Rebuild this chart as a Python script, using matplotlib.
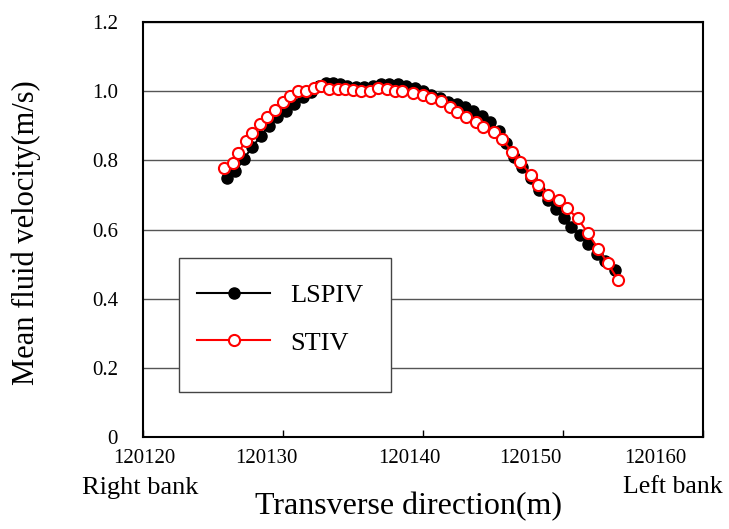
import matplotlib.pyplot as plt
from matplotlib.patches import Rectangle

plt.rcParams['font.family'] = ['Liberation Serif', 'DejaVu Serif']

# LSPIV (black, filled)
lspiv_x = [120126.0, 120126.6, 120127.2, 120127.8, 120128.4, 120129.0, 120129.6, 120130.2,
           120130.8, 120131.4, 120132.0, 120132.6, 120133.1, 120133.6, 120134.1, 120134.6,
           120135.2, 120135.8, 120136.4, 120137.0, 120137.6, 120138.2, 120138.8, 120139.4,
           120140.0, 120140.6, 120141.2, 120141.8, 120142.4, 120143.0, 120143.6, 120144.2,
           120144.8, 120145.4, 120145.9, 120146.5, 120147.1, 120147.7, 120148.3, 120148.9,
           120149.5, 120150.1, 120150.6, 120151.2, 120151.8, 120152.4, 120153.0, 120153.7]
lspiv_v = [0.748, 0.768, 0.805, 0.838, 0.870, 0.900, 0.925, 0.943,
           0.962, 0.982, 0.998, 1.015, 1.024, 1.024, 1.022, 1.016,
           1.012, 1.012, 1.016, 1.020, 1.020, 1.020, 1.016, 1.010,
           1.000, 0.990, 0.980, 0.970, 0.962, 0.953, 0.944, 0.928,
           0.910, 0.885, 0.850, 0.810, 0.780, 0.748, 0.715, 0.685,
           0.660, 0.632, 0.608, 0.584, 0.558, 0.530, 0.508, 0.482]

# STIV (red, open)
stiv_x = [120125.8, 120126.4, 120126.8, 120127.35, 120127.8, 120128.35, 120128.85, 120129.4,
          120130.0, 120130.5, 120131.05, 120131.65, 120132.2, 120132.7, 120133.3, 120133.9,
          120134.4, 120135.0, 120135.6, 120136.2, 120136.8, 120137.4, 120138.0, 120138.5,
          120139.3, 120140.0, 120140.6, 120141.3, 120141.9, 120142.45, 120143.05, 120143.8,
          120144.3, 120145.05, 120145.65, 120146.35, 120146.95, 120147.7, 120148.2, 120148.95,
          120149.7, 120150.3, 120151.05, 120151.75, 120152.5, 120153.2, 120153.95]
stiv_v = [0.777, 0.793, 0.822, 0.857, 0.880, 0.904, 0.926, 0.947,
          0.968, 0.986, 1.001, 1.001, 1.010, 1.015, 1.006, 1.006,
          1.006, 1.003, 1.000, 1.000, 1.008, 1.006, 1.001, 1.001,
          0.996, 0.989, 0.981, 0.972, 0.955, 0.939, 0.926, 0.910,
          0.897, 0.883, 0.861, 0.825, 0.794, 0.759, 0.728, 0.699,
          0.685, 0.661, 0.632, 0.591, 0.545, 0.502, 0.453]

x_ticks = [120120, 120130, 120140, 120150, 120160]
y_ticks = [0, 0.2, 0.4, 0.6, 0.8, 1.0, 1.2]
y_ticklabels = ['0', '0.2', '0.4', '0.6', '0.8', '1.0', '1.2']

fig = plt.figure(figsize=(7.29, 5.29), dpi=100)
ax = fig.add_axes([0.1962, 0.1739, 0.7682, 0.7845])

l1, = ax.plot(lspiv_x, lspiv_v, color='black', lw=1.5, marker='o', markersize=8,
              markerfacecolor='black', markeredgecolor='black', label='LSPIV', zorder=3)
l2, = ax.plot(stiv_x, stiv_v, color='red', lw=1.5, marker='o', markersize=8,
              markerfacecolor='white', markeredgecolor='red', markeredgewidth=1.5,
              label='STIV', zorder=4)

ax.set_xlim(120120, 120160)
ax.set_ylim(0, 1.2)
ax.set_xticks(x_ticks)
ax.set_xticklabels([])
# the labels in the original sit a bit left of their tick marks
label_pos = [0.002, 0.221, 0.475, 0.691, 0.914]
for xp, t in zip(label_pos, x_ticks):
    ax.text(xp, -0.051, str(t), transform=ax.transAxes, fontsize=15,
            ha='center', va='center')
ax.set_yticks(y_ticks)
ax.set_yticklabels(y_ticklabels, fontsize=15)
ax.tick_params(axis='x', direction='in', length=5, width=1)
ax.tick_params(axis='y', length=0, pad=18)
ax.yaxis.grid(True, color='#555555', lw=1)
ax.set_axisbelow(True)
for s in ax.spines.values():
    s.set_linewidth(1.5)

ax.set_ylabel('Mean fluid velocity(m/s)', fontsize=22)
ax.yaxis.set_label_coords(-0.182, 0.493)
fig.text(0.5605, 0.043, 'Transverse direction(m)', fontsize=23, ha='center', va='center')
fig.text(0.112, 0.078, 'Right bank', fontsize=19, ha='left', va='center')
fig.text(0.855, 0.079, 'Left bank', fontsize=18.5, ha='left', va='center')

# legend box
ax.add_patch(Rectangle((0.064, 0.108), 0.379, 0.323, transform=ax.transAxes,
                       facecolor='white', edgecolor='#444444', lw=1, zorder=5))
leg = ax.legend(handles=[l1, l2], loc='upper left', bbox_to_anchor=(0.0964, 0.369),
                frameon=False, fontsize=19, handlelength=2.77, handletextpad=0.76,
                labelspacing=0.9, borderpad=0, borderaxespad=0)
leg.set_zorder(6)

plt.savefig('out.png', dpi=100)
